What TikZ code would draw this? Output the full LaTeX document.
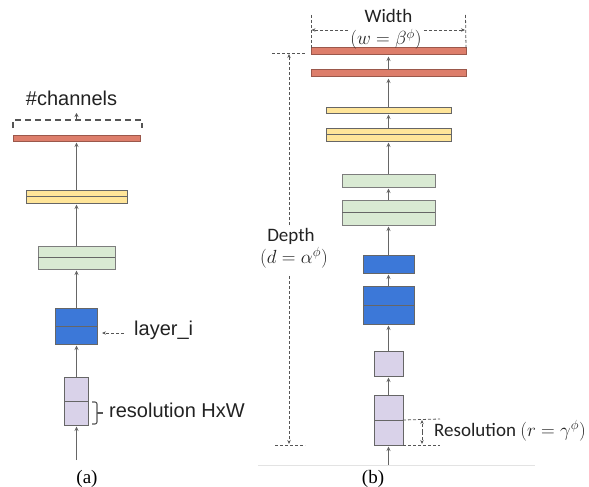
\RequirePackage{fix-cm}
\documentclass[tikz,border=0pt]{standalone}
\usepackage{fontspec}
\setmainfont{Liberation Serif}
\newfontfamily\labfont{Liberation Sans}
\newfontfamily\dimfont{Carlito}
\usetikzlibrary{arrows.meta}

\definecolor{edgegray}{HTML}{666666}
\definecolor{dimgray}{HTML}{555555}
\definecolor{txtgray}{HTML}{222222}
\definecolor{barred}{HTML}{DD7E6B}
\definecolor{baryellow}{HTML}{FFE599}
\definecolor{bargreen}{HTML}{D9EAD3}
\definecolor{barblue}{HTML}{3C78D8}
\definecolor{barpurple}{HTML}{D9D2E9}
\definecolor{rulegray}{HTML}{E3E3E3}

\tikzset{
  blk/.style={rectangle, draw=edgegray, line width=1pt, inner sep=0pt, outer sep=0pt},
  redbar/.style={blk, fill=barred, draw=barred!70!black},
  yellowbar/.style={blk, fill=baryellow, draw=edgegray},
  greenbar/.style={blk, fill=bargreen, draw=edgegray!85},
  bluebar/.style={blk, fill=barblue, draw=edgegray},
  purplebar/.style={blk, fill=barpurple, draw=edgegray},
  midline/.style={draw=edgegray, line width=1pt},
  conn/.style={draw=edgegray, line width=1pt, -{Stealth[length=4.5pt,width=4pt]}, shorten >=1.5pt},
  dimline/.style={draw=dimgray, line width=0.8pt, dash pattern=on 3pt off 2pt},
  dimarrow/.style={dimline, -{Stealth[length=4pt,width=3.4pt]}},
  bracket/.style={draw=dimgray, line width=1.1pt, dash pattern=on 6pt off 4pt},
  labA/.style={inner sep=0pt, text=txtgray, font=\labfont\fontsize{20}{24}\selectfont},
  labB/.style={inner sep=0pt, text=txtgray, font=\dimfont\fontsize{19}{23}\selectfont},
  caption/.style={inner sep=0pt, text=black, font=\fontsize{19}{23}\selectfont},
}

\begin{document}
\begin{tikzpicture}[x=1pt, y=-1pt]
\useasboundingbox (0,0) rectangle (589,487);

% ---------------- (a) baseline network ----------------
\node[redbar, minimum width=127pt, minimum height=6pt] (a1) at (76.5,138) {};
\node[yellowbar, minimum width=101pt, minimum height=13pt] (a2) at (76.5,196.5) {};
\draw[midline] (a2.west) -- (a2.east);
\node[greenbar, minimum width=77pt, minimum height=23pt] (a3) at (76.5,257.5) {};
\draw[midline] (a3.west) -- (a3.east);
\node[bluebar, minimum width=42pt, minimum height=36pt] (a4) at (76.5,326) {};
\draw[midline] (a4.west) -- (a4.east);
\node[purplebar, minimum width=24pt, minimum height=48pt] (a5) at (76.5,401) {};
\draw[midline] (a5.west) -- (a5.east);

\coordinate (ain) at (76.5,460);
\draw[conn] (ain) -- (a5.south);
\draw[conn] (a5.north) -- (a4.south);
\draw[conn] (a4.north) -- (a3.south);
\draw[conn] (a3.north) -- (a2.south);
\draw[conn] (a2.north) -- (a1.south);

% channel bracket
\coordinate (brL) at (13,128);
\coordinate (brR) at (142,128);
\draw[bracket] (brL) -- (13,120) -- (142,120) -- (brR);
\coordinate (chbase) at (76.5,121);
\coordinate (chtip) at (76.5,113);
\draw[draw=dimgray, line width=1pt, -{Stealth[length=4pt,width=4pt]}] (chbase) -- (chtip);
\node[labA, anchor=base] (chan) at (71.5,105) {\#channels};

% layer_i pointer
\node[labA, anchor=base west] (layer) at (134,335) {layer\_i};
\coordinate (lyfrom) at (124,333);
\coordinate (lyto) at (102,333);
\draw[dimarrow] (lyfrom) -- (lyto);

% resolution brace
\coordinate (rbT) at (92,402);
\coordinate (rbB) at (92,424);
\coordinate (rbM) at (97,413);
\coordinate (rbE) at (103,413);
\draw[draw=dimgray, line width=1.1pt, rounded corners=2pt] (rbT) -| (rbM) |- (rbB);
\draw[draw=dimgray, line width=1.1pt] (rbM) -- (rbE);
\node[labA, anchor=base west] (reslab) at (109,417) {resolution HxW};

\node[caption, anchor=base] (capa) at (87,483) {(a)};

% ---------------- (b) compound scaling ----------------
\node[redbar, minimum width=155pt, minimum height=7pt] (b1) at (388.5,51.5) {};
\node[redbar, minimum width=155pt, minimum height=7pt] (b2) at (388.5,73.5) {};
\node[yellowbar, minimum width=125pt, minimum height=6pt] (b3) at (388.5,110) {};
\node[yellowbar, minimum width=125pt, minimum height=13pt] (b4) at (388.5,134.5) {};
\draw[midline] (b4.west) -- (b4.east);
\node[greenbar, minimum width=93pt, minimum height=13pt] (b5) at (388.5,180.5) {};
\node[greenbar, minimum width=93pt, minimum height=25pt] (b6) at (388.5,212.5) {};
\draw[midline] (b6.west) -- (b6.east);
\node[bluebar, minimum width=51pt, minimum height=18pt] (b7) at (388.5,264) {};
\node[bluebar, minimum width=51pt, minimum height=38pt] (b8) at (388.5,305) {};
\draw[midline] (b8.west) -- (b8.east);
\node[purplebar, minimum width=29pt, minimum height=25pt] (b9) at (388.5,363.5) {};
\node[purplebar, minimum width=29pt, minimum height=50pt] (b10) at (388.5,420) {};
\draw[midline] (b10.west) -- (b10.east);

\coordinate (bin) at (388.5,465);
\draw[conn] (bin) -- (b10.south);
\draw[conn] (b10.north) -- (b9.south);
\draw[conn] (b9.north) -- (b8.south);
\draw[conn] (b8.north) -- (b7.south);
\draw[conn] (b7.north) -- (b6.south);
\draw[conn] (b6.north) -- (b5.south);
\draw[conn] (b5.north) -- (b4.south);
\draw[conn] (b4.north) -- (b3.south);
\draw[conn] (b3.north) -- (b2.south);
\draw[conn] (b2.north) -- (b1.south);

% width dimension
\coordinate (wLtop) at (311,15);
\coordinate (wRtop) at (465.5,15);
\draw[dimline] (wLtop) -- (b1.north west);
\draw[dimline] (wRtop) -- (b1.north east);
\node[labB, anchor=base] (wtitle) at (388.5,23) {Width};
\node[labB, anchor=base, inner xsep=2pt] (wmath) at (386,45) {$(w=\beta^{\phi})$};
\coordinate (wL) at (311.5,30);
\coordinate (wR) at (465,30);
\draw[dimarrow] (wmath.west |- wL) -- (wL);
\draw[dimarrow] (wmath.east |- wR) -- (wR);

% depth dimension
\coordinate (dTL) at (272,53);
\coordinate (dTR) at (305,53);
\coordinate (dBL) at (275,445);
\coordinate (dBR) at (305,445);
\draw[dimline] (dTL) -- (dTR);
\draw[dimline] (dBL) -- (dBR);
\coordinate (dTip) at (289,54);
\coordinate (dBip) at (289,444);
\coordinate (dGapT) at (289,225);
\coordinate (dGapB) at (289,276);
\draw[dimarrow] (dGapT) -- (dTip);
\draw[dimarrow] (dGapB) -- (dBip);
\node[labB, anchor=base] (dtitle) at (291,241) {Depth};
\node[labB, anchor=base] (dmath) at (294,263) {$(d=\alpha^{\phi})$};

% resolution dimension
\coordinate (rT) at (440,419);
\coordinate (rB) at (440,445);
\draw[dimline] (b10.east) -- (rT);
\draw[dimline] (b10.south east) -- (rB);
\coordinate (rTip) at (422,420);
\coordinate (rBip) at (422,444);
\coordinate (rMid) at (422,432);
\draw[dimarrow] (rMid) -- (rTip);
\draw[dimarrow] (rMid) -- (rBip);
\node[labB, anchor=base west] (rlab) at (434,436) {Resolution $(r=\gamma^{\phi})$};

% ground rule and caption
\coordinate (gL) at (258,465);
\coordinate (gR) at (535,465);
\draw[draw=rulegray, line width=0.8pt] (gL) -- (gR);
\node[caption, anchor=base] (capb) at (373,483) {(b)};
\end{tikzpicture}
\end{document}
